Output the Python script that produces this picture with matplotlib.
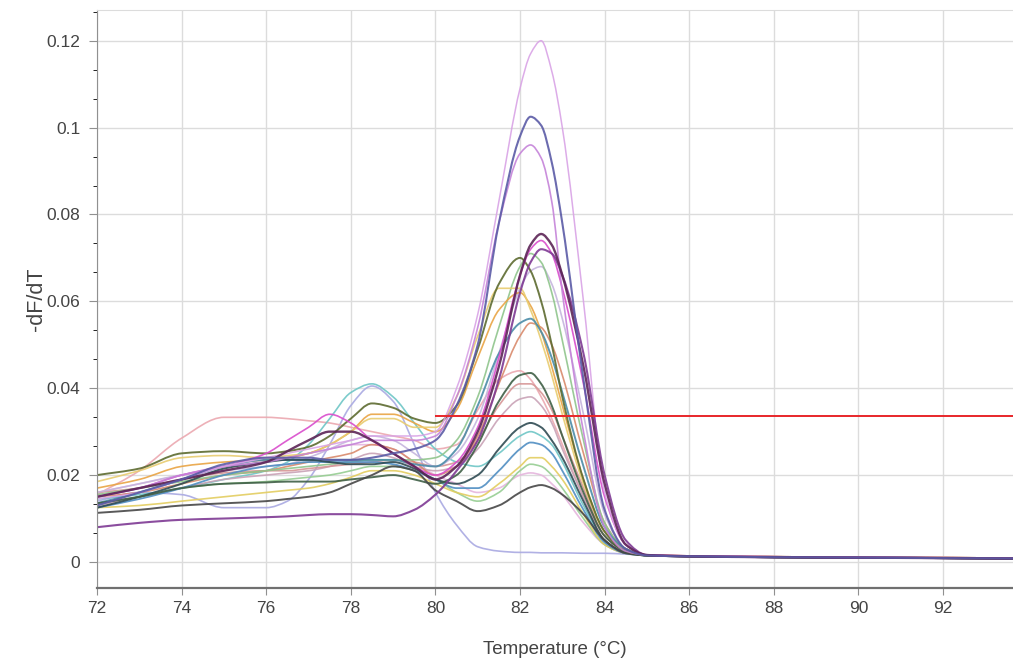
import matplotlib
matplotlib.use("Agg")
import matplotlib.pyplot as plt
from matplotlib.path import Path
from matplotlib.patches import PathPatch
from matplotlib.ticker import MultipleLocator

plt.rcParams['font.family'] = ['Liberation Sans', 'DejaVu Sans']

# temperature grid (°C) the curves were read at
temps = [72, 73, 74, 75, 76, 76.5, 77, 77.5, 78, 78.5, 79, 79.5, 80, 80.5, 81, 81.5,
         82, 82.25, 82.5, 82.75, 83, 83.5, 84, 84.5, 85, 86, 88, 90, 93.65]

# -dF/dT per well
lilac_top = [0.0145, 0.016, 0.019, 0.022, 0.024, 0.025, 0.026, 0.027, 0.028, 0.029, 0.029, 0.029, 0.030, 0.040, 0.057, 0.083,
             0.109, 0.117, 0.120, 0.113, 0.100, 0.060, 0.016, 0.004, 0.0016, 0.0014, 0.0012, 0.0011, 0.0009]
blue_purple = [0.013, 0.016, 0.019, 0.0225, 0.024, 0.024, 0.024, 0.0235, 0.0235, 0.024, 0.025, 0.026, 0.028, 0.036, 0.050, 0.078,
               0.098, 0.1025, 0.1005, 0.092, 0.078, 0.042, 0.012, 0.003, 0.0015, 0.0013, 0.0011, 0.001, 0.0008]
pink_violet = [0.015, 0.017, 0.020, 0.022, 0.023, 0.024, 0.025, 0.026, 0.027, 0.028, 0.028, 0.028, 0.029, 0.038, 0.054, 0.078,
               0.094, 0.096, 0.093, 0.083, 0.062, 0.030, 0.008, 0.0025, 0.0016, 0.0014, 0.0012, 0.0011, 0.0009]
dark_purple = [0.015, 0.017, 0.019, 0.021, 0.023, 0.0255, 0.028, 0.030, 0.030, 0.028, 0.025, 0.022, 0.019, 0.022, 0.030, 0.045,
               0.066, 0.073, 0.0755, 0.073, 0.066, 0.045, 0.018, 0.004, 0.0016, 0.0013, 0.0011, 0.001, 0.0008]
purple = [0.008, 0.009, 0.0097, 0.010, 0.0103, 0.0105, 0.0108, 0.011, 0.011, 0.0108, 0.0105, 0.012, 0.0155, 0.021, 0.028, 0.042,
          0.062, 0.069, 0.072, 0.071, 0.066, 0.048, 0.020, 0.005, 0.0016, 0.0013, 0.0011, 0.001, 0.0008]
magenta = [0.015, 0.017, 0.020, 0.022, 0.025, 0.028, 0.031, 0.034, 0.032, 0.028, 0.025, 0.022, 0.020, 0.023, 0.031, 0.047,
           0.066, 0.072, 0.074, 0.071, 0.063, 0.041, 0.015, 0.004, 0.0016, 0.0014, 0.0012, 0.001, 0.0009]
olive = [0.020, 0.0215, 0.025, 0.0255, 0.025, 0.0255, 0.0265, 0.029, 0.033, 0.0365, 0.0355, 0.033, 0.032, 0.036, 0.049, 0.064,
         0.070, 0.067, 0.060, 0.050, 0.038, 0.019, 0.007, 0.0025, 0.0015, 0.0013, 0.0011, 0.001, 0.0008]
light_green = [0.0155, 0.017, 0.0185, 0.020, 0.021, 0.0215, 0.022, 0.0225, 0.023, 0.0235, 0.0235, 0.0235, 0.024, 0.028, 0.038, 0.054,
               0.068, 0.071, 0.069, 0.062, 0.051, 0.028, 0.009, 0.003, 0.0015, 0.0013, 0.0012, 0.001, 0.0009]
lavender = [0.016, 0.018, 0.020, 0.021, 0.022, 0.0225, 0.024, 0.026, 0.028, 0.029, 0.028, 0.025, 0.022, 0.025, 0.033, 0.048,
            0.063, 0.067, 0.068, 0.064, 0.056, 0.034, 0.011, 0.003, 0.0016, 0.0014, 0.0012, 0.0011, 0.0009]
yellow = [0.0185, 0.021, 0.024, 0.0245, 0.024, 0.0245, 0.025, 0.027, 0.030, 0.033, 0.033, 0.031, 0.031, 0.038, 0.052, 0.063,
          0.063, 0.058, 0.051, 0.043, 0.034, 0.018, 0.007, 0.003, 0.0016, 0.0014, 0.0012, 0.0011, 0.0009]
orange = [0.017, 0.019, 0.022, 0.023, 0.0235, 0.024, 0.025, 0.027, 0.030, 0.034, 0.034, 0.032, 0.030, 0.035, 0.047, 0.058,
          0.062, 0.059, 0.053, 0.045, 0.036, 0.019, 0.007, 0.003, 0.0016, 0.0014, 0.0012, 0.0011, 0.0009]
teal = [0.0135, 0.016, 0.019, 0.022, 0.0235, 0.0235, 0.0235, 0.0235, 0.0235, 0.0235, 0.0235, 0.0225, 0.022, 0.026, 0.036, 0.048,
        0.055, 0.056, 0.053, 0.047, 0.039, 0.022, 0.008, 0.003, 0.0015, 0.0013, 0.0011, 0.001, 0.0008]
salmon = [0.015, 0.016, 0.018, 0.020, 0.021, 0.022, 0.023, 0.024, 0.025, 0.027, 0.026, 0.023, 0.020, 0.022, 0.029, 0.041,
          0.052, 0.055, 0.054, 0.050, 0.043, 0.025, 0.009, 0.003, 0.0016, 0.0014, 0.0012, 0.0011, 0.0009]
pink = [0.0155, 0.021, 0.0285, 0.0333, 0.0333, 0.033, 0.0325, 0.032, 0.031, 0.030, 0.029, 0.028, 0.026, 0.027, 0.035, 0.042,
        0.044, 0.042, 0.038, 0.033, 0.027, 0.015, 0.006, 0.0025, 0.0016, 0.0014, 0.0012, 0.0011, 0.0009]
dark_green = [0.0135, 0.015, 0.017, 0.018, 0.0183, 0.0185, 0.0185, 0.0185, 0.019, 0.0195, 0.020, 0.019, 0.018, 0.020, 0.027, 0.037,
              0.043, 0.0435, 0.041, 0.036, 0.029, 0.016, 0.006, 0.0025, 0.0015, 0.0013, 0.0011, 0.001, 0.0008]
rose = [0.016, 0.017, 0.019, 0.0205, 0.021, 0.021, 0.0215, 0.022, 0.0225, 0.023, 0.0235, 0.023, 0.022, 0.023, 0.028, 0.036,
        0.041, 0.041, 0.039, 0.035, 0.029, 0.017, 0.006, 0.0025, 0.0016, 0.0014, 0.0012, 0.0011, 0.0009]
mauve = [0.013, 0.015, 0.017, 0.019, 0.020, 0.0205, 0.021, 0.022, 0.0235, 0.025, 0.024, 0.022, 0.021, 0.022, 0.026, 0.033,
         0.0375, 0.038, 0.036, 0.032, 0.026, 0.015, 0.005, 0.0022, 0.0015, 0.0013, 0.0012, 0.001, 0.0009]
slate = [0.0125, 0.015, 0.018, 0.0215, 0.023, 0.0235, 0.0235, 0.023, 0.0225, 0.0225, 0.023, 0.0215, 0.019, 0.018, 0.020, 0.026,
         0.031, 0.032, 0.031, 0.028, 0.024, 0.014, 0.005, 0.0022, 0.0015, 0.0013, 0.0011, 0.001, 0.0008]
blue = [0.0125, 0.0145, 0.017, 0.020, 0.022, 0.0225, 0.023, 0.023, 0.023, 0.023, 0.0225, 0.021, 0.019, 0.017, 0.017, 0.021,
        0.026, 0.0275, 0.027, 0.025, 0.021, 0.012, 0.0045, 0.002, 0.0015, 0.0013, 0.0011, 0.001, 0.0008]
cyan = [0.0145, 0.0155, 0.017, 0.019, 0.021, 0.023, 0.027, 0.033, 0.039, 0.041, 0.038, 0.032, 0.026, 0.023, 0.022, 0.025,
        0.029, 0.030, 0.029, 0.027, 0.023, 0.013, 0.005, 0.002, 0.0015, 0.0013, 0.0011, 0.001, 0.0009]
yellow2 = [0.0125, 0.013, 0.014, 0.015, 0.016, 0.0165, 0.017, 0.018, 0.0195, 0.021, 0.021, 0.020, 0.018, 0.016, 0.015, 0.018,
           0.022, 0.024, 0.024, 0.022, 0.019, 0.011, 0.004, 0.002, 0.0015, 0.0013, 0.0012, 0.0011, 0.0009]
light_green2 = [0.0135, 0.015, 0.017, 0.018, 0.0185, 0.019, 0.0195, 0.020, 0.021, 0.022, 0.022, 0.021, 0.019, 0.016, 0.014, 0.016,
                0.021, 0.0225, 0.022, 0.020, 0.017, 0.010, 0.004, 0.002, 0.0015, 0.0013, 0.0011, 0.001, 0.0009]
lilac2 = [0.016, 0.018, 0.020, 0.022, 0.0235, 0.024, 0.025, 0.026, 0.027, 0.027, 0.026, 0.023, 0.020, 0.018, 0.016, 0.017,
          0.020, 0.0205, 0.020, 0.018, 0.0155, 0.009, 0.004, 0.002, 0.0016, 0.0014, 0.0012, 0.0011, 0.0009]
dark_gray = [0.0113, 0.012, 0.013, 0.0135, 0.014, 0.0145, 0.015, 0.016, 0.018, 0.020, 0.022, 0.021, 0.0165, 0.014, 0.0117, 0.013,
             0.016, 0.0172, 0.0177, 0.017, 0.0155, 0.011, 0.005, 0.002, 0.0015, 0.0013, 0.0011, 0.001, 0.0008]
lav_blue = [0.014, 0.016, 0.0155, 0.0125, 0.0125, 0.014, 0.019, 0.027, 0.036, 0.0405, 0.037, 0.027, 0.016, 0.0085, 0.0035, 0.0025,
            0.0022, 0.0022, 0.0021, 0.0021, 0.0021, 0.002, 0.002, 0.0018, 0.0016, 0.0014, 0.0012, 0.0011, 0.0009]

curves = [
    (lav_blue, '#a9a9e2', 1.2),
    (pink, '#eba8b0', 1.2),
    (lilac2, '#e5b5dd', 1.2),
    (light_green2, '#96cd92', 1.2),
    (yellow2, '#e3cd60', 1.2),
    (cyan, '#6ec6c6', 1.2),
    (mauve, '#c9a2b6', 1.2),
    (rose, '#d69696', 1.2),
    (salmon, '#d98a6c', 1.2),
    (lavender, '#c5b5dd', 1.2),
    (light_green, '#8fc58c', 1.2),
    (orange, '#e9a444', 1.2),
    (yellow, '#e8cc70', 1.2),
    (blue, '#508ec2', 1.3),
    (teal, '#4b8ca8', 1.4),
    (slate, '#2f4b53', 1.4),
    (dark_green, '#3f5f46', 1.4),
    (dark_gray, '#474747', 1.4),
    (olive, '#5d6b30', 1.4),
    (magenta, '#d94ccc', 1.2),
    (pink_violet, '#c583d9', 1.2),
    (lilac_top, '#d9a3e6', 1.1),
    (purple, '#7e3a94', 1.5),
    (dark_purple, '#5c2456', 1.7),
    (blue_purple, '#5b5ba6', 1.5),
]

threshold = 0.0335
threshold_start = 80

y_ticks = [0, 0.02, 0.04, 0.06, 0.08, 0.1, 0.12]
y_labels = ['0', '0.02', '0.04', '0.06', '0.08', '0.1', '0.12']
x_ticks = list(range(72, 93, 2))


def slopes(xs, ys):
    # monotone (pchip style) tangents so the stroke never overshoots the read values
    n = len(xs)
    h = [xs[i + 1] - xs[i] for i in range(n - 1)]
    d = [(ys[i + 1] - ys[i]) / h[i] for i in range(n - 1)]
    m = [0.0] * n
    m[0], m[-1] = d[0], d[-1]
    for k in range(1, n - 1):
        if d[k - 1] * d[k] <= 0:
            m[k] = 0.0
        else:
            w1 = 2 * h[k] + h[k - 1]
            w2 = h[k] + 2 * h[k - 1]
            m[k] = (w1 + w2) / (w1 / d[k - 1] + w2 / d[k])
    return m


def smooth_path(xs, ys):
    m = slopes(xs, ys)
    verts = [(xs[0], ys[0])]
    codes = [Path.MOVETO]
    for i in range(len(xs) - 1):
        h = xs[i + 1] - xs[i]
        verts += [(xs[i] + h / 3, ys[i] + m[i] * h / 3),
                  (xs[i + 1] - h / 3, ys[i + 1] - m[i + 1] * h / 3),
                  (xs[i + 1], ys[i + 1])]
        codes += [Path.CURVE4] * 3
    return Path(verts, codes)


fig = plt.figure(figsize=(10.13, 6.63), dpi=100)
ax = fig.add_axes([0.0958, 0.1131, 0.9042, 0.872])

for vals, col, lw in curves:
    ax.add_patch(PathPatch(smooth_path(temps, vals), fill=False, edgecolor=col,
                           lw=lw, alpha=0.9, capstyle='round', joinstyle='round'))

xmax = 93.655
ax.hlines(threshold, threshold_start, xmax, color='#e8262a', lw=1.4, zorder=5)

ax.set_xlim(72, xmax)
ax.set_ylim(-0.006, 0.1271)
ax.set_xticks(x_ticks)
ax.set_xticklabels([str(t) for t in x_ticks])
ax.set_yticks(y_ticks)
ax.set_yticklabels(y_labels)
ax.yaxis.set_minor_locator(MultipleLocator(0.02 / 3))
ax.grid(True, color='#dcdcdc', lw=1.0)
ax.set_axisbelow(True)

ax.spines['right'].set_visible(False)
ax.spines['top'].set_color('#dcdcdc')
ax.spines['left'].set_color('#909090')
ax.spines['bottom'].set_color('#707070')
ax.spines['bottom'].set_linewidth(1.6)
ax.tick_params(axis='both', colors='#909090', labelcolor='#444444', labelsize=12.5)
ax.tick_params(axis='y', which='major', length=6, pad=6)
ax.tick_params(axis='y', which='minor', length=3)
ax.tick_params(axis='x', length=5, pad=4)

ax.set_xlabel('Temperature (°C)', fontsize=13.5, color='#444444', labelpad=18)
ax.set_ylabel('-dF/dT', fontsize=15.5, color='#444444', labelpad=0)

fig.savefig('out.png', dpi=100)
